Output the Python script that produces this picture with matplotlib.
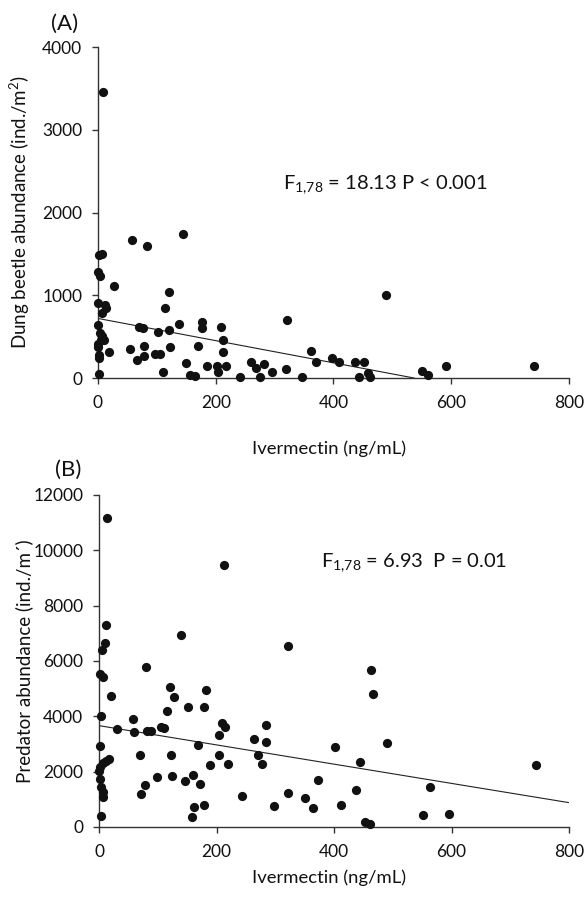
import matplotlib
matplotlib.use('Agg')
import matplotlib.pyplot as plt
import numpy as np

plt.rcParams['font.family'] = ['Lato', 'DejaVu Sans']
plt.rcParams['mathtext.fontset'] = 'custom'
plt.rcParams['mathtext.rm'] = 'Lato'
plt.rcParams['mathtext.it'] = 'Lato'

# (A) dung beetles
beetle_x = [8, 58, 84, 145, 2, 7, 0, 4, 28, 120, 0, 12, 14, 7, 113, 0, 70, 77, 137, 321,
            102, 120, 177, 176, 209, 212, 3, 5, 0, 10, 18, 55, 78, 123, 170, 212, 1, 2, 67, 79,
            96, 106, 111, 150, 2, 157, 165, 185, 202, 204, 217, 241, 260, 268, 275, 282, 296, 319, 347, 361,
            370, 398, 410, 436, 452, 443, 459, 462, 490, 550, 560, 591, 741, 0, 6]
beetle_y = [3460, 1665, 1598, 1740, 1485, 1500, 1284, 1228, 1114, 1040, 902, 882, 842, 782, 842, 637, 615, 599, 649, 700,
            559, 581, 679, 599, 619, 458, 541, 460, 414, 460, 320, 352, 384, 372, 390, 318, 279, 239, 219, 269,
            295, 295, 76, 185, 48, 40, 20, 145, 145, 68, 145, 16, 197, 117, 16, 169, 68, 108, 12, 330,
            197, 237, 197, 197, 197, 16, 56, 16, 1000, 88, 36, 149, 149, 380, 505]
beetle_fit_x = [0, 537]
beetle_fit_y = [720, 0]

# (B) predators
pred_x = [13, 213, 12, 10, 5, 1, 7, 139, 322, 80, 121, 127, 20, 152, 182, 179, 115, 3, 57, 30,
          60, 81, 88, 106, 111, 210, 214, 205, 284, 263, 285, 271, 169, 2, 70, 123, 205, 402, 444, 277,
          189, 219, 17, 12, 6, 2, 0, 99, 125, 147, 160, 172, 78, 72, 1, 4, 6, 7, 372, 438,
          244, 322, 350, 298, 365, 412, 161, 178, 159, 4, 453, 461, 463, 467, 491, 563, 552, 595, 744]
pred_y = [11170, 9470, 7300, 6665, 6390, 5520, 5438, 6940, 6530, 5800, 5075, 4690, 4740, 4352, 4952, 4349, 4197, 4004, 3900, 3546,
          3426, 3475, 3475, 3600, 3590, 3771, 3627, 3325, 3687, 3181, 3060, 2602, 2956, 2945, 2620, 2620, 2602, 2894, 2361, 2277,
          2241, 2277, 2470, 2370, 2300, 2180, 2040, 1794, 1860, 1680, 1897, 1570, 1510, 1210, 1740, 1460, 1250, 1090, 1699, 1337,
          1120, 1217, 1036, 759, 675, 795, 740, 795, 370, 390, 193, 120, 5675, 4807, 3048, 1434, 446, 470, 2241]
pred_fit_x = [0, 800]
pred_fit_y = [3663, 880]

fig = plt.figure(figsize=(5.86, 8.99), dpi=100)
ax1 = fig.add_axes([0.1672, 0.5795, 0.8038, 0.3682])
ax2 = fig.add_axes([0.169, 0.0801, 0.802, 0.3693])

panels = [
    (ax1, beetle_x, beetle_y, beetle_fit_x, beetle_fit_y, 4000, 1000,
     'Dung beetle abundance (ind./m$^{2}$)', -0.19,
     (315, 2284), r'F$_{1{,}78}$ = 18.13 P < 0.001'),
    (ax2, pred_x, pred_y, pred_fit_x, pred_fit_y, 12000, 2000,
     'Predator abundance (ind./m\u00b4)', -0.128,
     (378, 9397), r'F$_{1{,}78}$ = 6.93  P = 0.01'),
]

for ax, x, y, fx, fy, ymax, ystep, ylab, xlab_y, tpos, txt in panels:
    ax.scatter(x, y, s=44, color='#111111', zorder=3, clip_on=False, linewidths=0)
    ax.plot(fx, fy, color='#222222', lw=0.8, zorder=2)
    ax.set_xlim(0, 800)
    ax.set_ylim(0, ymax)
    ax.set_xticks(np.arange(0, 801, 200))
    ax.set_yticks(np.arange(0, ymax + 1, ystep))
    for s in ['top', 'right']:
        ax.spines[s].set_visible(False)
    for s in ['left', 'bottom']:
        ax.spines[s].set_color('#333333')
        ax.spines[s].set_linewidth(1.0)
    ax.tick_params(axis='x', direction='out', length=4.3, width=1, pad=7.7, labelsize=12.5, colors='#333333', labelcolor='#111111')
    ax.tick_params(axis='y', direction='out', length=4.3, width=1, pad=7, labelsize=12.5, colors='#333333', labelcolor='#111111')
    ax.set_xlabel('Ivermectin (ng/mL)', fontsize=13.3, color='#111111')
    ax.xaxis.set_label_coords(0.49, xlab_y)
    ax.set_ylabel(ylab, fontsize=13.5, color='#111111')
    ax.yaxis.set_label_coords(-0.14, 0.5)
    ax.text(tpos[0], tpos[1], txt, fontsize=14.5, color='#111111', va='baseline', ha='left')

fig.text(65 / 586, 1 - 24 / 899, '(A)', fontsize=16, ha='center', va='center', color='#111111')
fig.text(68 / 586, 1 - 470 / 899, '(B)', fontsize=16, ha='center', va='center', color='#111111')

fig.savefig('out.png', dpi=100)
